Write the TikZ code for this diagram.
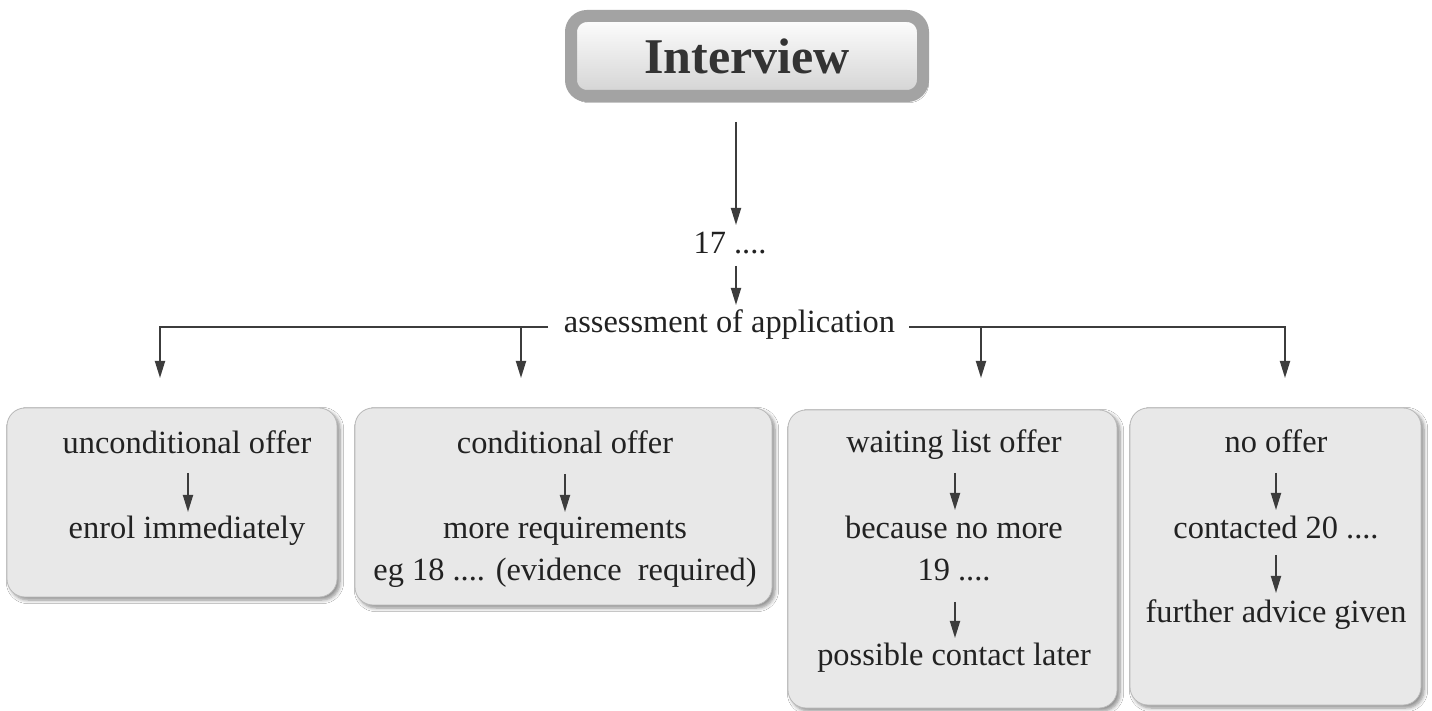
\documentclass[tikz,border=0pt]{standalone}
\usepackage{fontspec}
\setmainfont{Liberation Serif}
\usetikzlibrary{arrows.meta,calc,shadows.blur}
\definecolor{ink}{HTML}{222222}
\definecolor{arrowc}{HTML}{3C3C3C}
\definecolor{boxfill}{HTML}{E8E8E8}
\tikzset{
  arr/.style={draw=arrowc, line width=0.9pt, -{Triangle[length=8.5pt,width=5pt]}},
  txt/.style={anchor=base, inner sep=0pt, text=ink, font=\fontsize{16.2}{19}\selectfont},
  stagebox/.style={draw=gray!55, line width=0.4pt, fill=boxfill, rounded corners=9pt,
    blur shadow={shadow xshift=1.5pt, shadow yshift=-1.5pt, shadow blur steps=6, shadow opacity=45}},
  ivbox/.style={draw=gray!72, line width=6pt, rounded corners=8pt, top color=white, bottom color=gray!35,
    minimum width=176pt, minimum height=40pt, text=black!80,
    font=\fontsize{25}{30}\selectfont\bfseries,
    blur shadow={shadow xshift=1pt, shadow yshift=-1.5pt, shadow blur steps=8, shadow opacity=50}}
}
\begin{document}
\begin{tikzpicture}[x=0.5pt,y=-0.5pt]
\useasboundingbox[fill=white] (0,0) rectangle (1432,711);

% title
\node[ivbox] (iv) at (747,56) {Interview};

% boxes
\node[stagebox, minimum width=165pt, minimum height=94.5pt] (b1) at (172,502.5) {};
\node[stagebox, minimum width=208.5pt, minimum height=98.5pt] (b2) at (563.5,506.5) {};
\node[stagebox, minimum width=164.5pt, minimum height=149pt] (b3) at (952.5,559) {};
\node[stagebox, minimum width=145.5pt, minimum height=148.5pt] (b4) at (1275.5,556.5) {};

% top chain
\node[txt] (n17) at (730,254) {17 ....};
\node[txt] (as) at (729.5,333) {assessment of application};
\coordinate (a0) at (736,122);
\coordinate (a0e) at (736,225);
\coordinate (a1) at (736,266);
\coordinate (a1e) at (736,305);
\draw[arr] (a0) -- (a0e);
\draw[arr] (a1) -- (a1e);

% branches
\coordinate (lstart) at (548,327);
\coordinate (rstart) at (909,327);
\coordinate (e1) at (160,378);
\coordinate (e2) at (521,378);
\coordinate (e3) at (981,378);
\coordinate (e4) at (1285,378);
\draw[arr] (lstart) -| (e1);
\draw[arr] (e2|-lstart) -- (e2);
\draw[arr] (rstart) -| (e4);
\draw[arr] (e3|-rstart) -- (e3);

% box 1
\node[txt] (t1a) at (187,454) {unconditional offer};
\node[txt] (t1b) at (187,539) {enrol immediately};
\draw[arr] ($(t1a.base)+(1,19)$) -- ($(t1b.base)+(1,-27)$);

% box 2
\node[txt] (t2a) at (565,454) {conditional offer};
\node[txt] (t2b) at (565,539) {more requirements};
\node[txt] (t2c) at (565,581) {eg 18 .... (evidence\ \ required)};
\draw[arr] ($(t2a.base)+(0,20)$) -- ($(t2b.base)+(0,-27)$);

% box 3
\node[txt] (t3a) at (954,453) {waiting list offer};
\node[txt] (t3b) at (954,539) {because no more};
\node[txt] (t3c) at (954,581) {19 ....};
\node[txt] (t3d) at (954,666) {possible contact later};
\draw[arr] ($(t3a.base)+(1,20)$) -- ($(t3b.base)+(1,-29)$);
\draw[arr] ($(t3c.base)+(1,21)$) -- ($(t3d.base)+(1,-28)$);

% box 4
\node[txt] (t4a) at (1276,453) {no offer};
\node[txt] (t4b) at (1276,539) {contacted 20 ....};
\node[txt] (t4c) at (1276,623) {further advice given};
\draw[arr] ($(t4a.base)+(0,20)$) -- ($(t4b.base)+(0,-29)$);
\draw[arr] ($(t4b.base)+(0,16)$) -- ($(t4c.base)+(0,-30)$);
\end{tikzpicture}
\end{document}
